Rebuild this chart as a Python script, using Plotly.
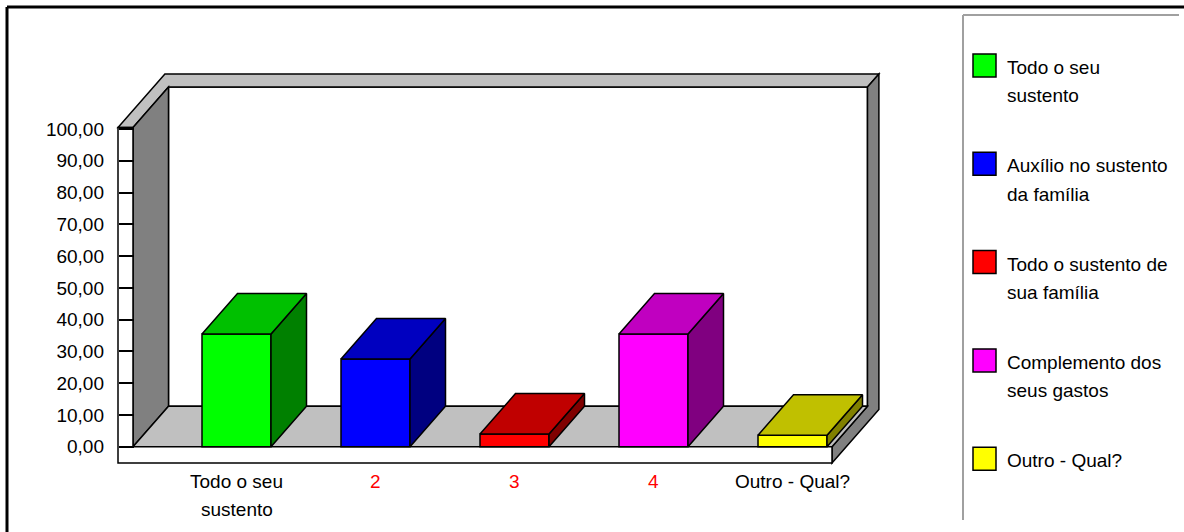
import plotly.graph_objects as go

# ---------------- data ----------------
categories = ["Todo o seu<br>sustento", "2", "3", "4", "Outro - Qual?"]
values = [35.5, 27.6, 4.0, 35.5, 3.6]
legend_labels = ["Todo o seu<br>sustento", "Auxílio no sustento<br>da família",
                 "Todo o sustento de<br>sua família", "Complemento dos<br>seus gastos",
                 "Outro - Qual?"]
y_ticks = [0, 10, 20, 30, 40, 50, 60, 70, 80, 90, 100]

# ---------------- styles ----------------
front_colors = ["#00FF00", "#0000FF", "#FF0000", "#FF00FF", "#FFFF00"]
top_colors = ["#00C000", "#0000C0", "#C00000", "#C000C0", "#C0C000"]
side_colors = ["#008000", "#000080", "#800000", "#800080", "#808000"]
label_colors = ["black", "#FF0000", "#FF0000", "#FF0000", "black"]
FONT = "Liberation Sans, Arial, sans-serif"
FS = 19
LW = 1.5

# ---------------- layout geometry (pixels) ----------------
W, H = 1184, 532
ML, MR, MT, MB = 112, 298, 69, 60
PW, PH = W - ML - MR, H - MT - MB
PX_X = 139.0      # px per category
PX_Y = 3.177      # px per value unit
X0PX, Y0PX = 236.5, 446.7
xr = [(ML - X0PX) / PX_X, (W - MR - X0PX) / PX_X]
yr = [(Y0PX - (H - MB)) / PX_Y, (Y0PX - MT) / PX_Y]

XO = (118 - X0PX) / PX_X     # outer left of left wall
XI = (133 - X0PX) / PX_X     # inner left wall
XE = (832 - X0PX) / PX_X     # right end of floor
DX = 35.5 / PX_X             # depth shift (x)
DY = 40.5 / PX_Y             # depth shift (y)
T = 13 / 40.5                # back wall thickness (depth units)
TOP = 100.5
FB = -(463 - Y0PX) / PX_Y    # floor bottom
BAR_W = 69 / PX_X


def P(x, y, z):
    return (x + z * DX, y + z * DY)


def path(pts):
    s = "M %f,%f" % pts[0]
    for p in pts[1:]:
        s += " L %f,%f" % p
    return s + " Z"


def px(xp):
    return (xp - ML) / PW


def py(yp):
    return (H - MB - yp) / PH


fig = go.Figure()

shapes = []
def poly(pts, fill):
    shapes.append(dict(type="path", xref="x", yref="y", path=path(pts),
                       fillcolor=fill, line=dict(color="black", width=LW), layer="below"))

# back wall interior
poly([P(XI, 0, 1), P(XE, 0, 1), P(XE, TOP, 1), P(XI, TOP, 1)], "white")
# top of walls
poly([P(XO, TOP, 0), P(XI, TOP, 0), P(XI, TOP, 1), P(XE, TOP, 1),
      P(XE, TOP, 1 + T), P(XO, TOP, 1 + T)], "#C0C0C0")
# right end faces (floor + back wall)
poly([P(XE, FB, 0), P(XE, 0, 0), P(XE, 0, 1), P(XE, TOP, 1),
      P(XE, TOP, 1 + T), P(XE, FB, 1 + T)], "#808080")
# left wall inner face
poly([P(XI, 0, 0), P(XI, TOP, 0), P(XI, TOP, 1), P(XI, 0, 1)], "#808080")
# floor top
poly([P(XI, 0, 0), P(XE, 0, 0), P(XE, 0, 1), P(XI, 0, 1)], "#C0C0C0")
# front faces of floor + left wall
poly([P(XO, FB, 0), P(XE, FB, 0), P(XE, 0, 0), P(XI, 0, 0),
      P(XI, TOP, 0), P(XO, TOP, 0)], "white")

# bars: front faces
xs = list(range(len(values)))
fig.add_trace(go.Bar(x=xs, y=values, width=BAR_W,
                     marker=dict(color=front_colors, line=dict(color="black", width=LW)),
                     hoverinfo="skip", showlegend=False))

# bars: top + side faces
for i, v in enumerate(values):
    l, r = i - BAR_W / 2, i + BAR_W / 2
    top = [P(l, v, 0), P(r, v, 0), P(r, v, 1), P(l, v, 1), P(l, v, 0)]
    side = [P(r, 0, 0), P(r, v, 0), P(r, v, 1), P(r, 0, 1), P(r, 0, 0)]
    for pts, col in ((side, side_colors[i]), (top, top_colors[i])):
        fig.add_trace(go.Scatter(x=[p[0] for p in pts], y=[p[1] for p in pts],
                                 mode="lines", fill="toself", fillcolor=col,
                                 line=dict(color="black", width=LW),
                                 hoverinfo="skip", showlegend=False))

annotations = []
# category labels
for i, lab in enumerate(categories):
    for k, line in enumerate(lab.split("<br>")):
        annotations.append(dict(x=i, y=py(481 + 28 * k), xref="x", yref="paper",
                                text=line, showarrow=False, xanchor="center", yanchor="middle",
                                font=dict(family=FONT, size=FS, color=label_colors[i])))

# outer frame
shapes.append(dict(type="line", xref="paper", yref="paper", x0=px(7), x1=px(1190),
                   y0=py(7), y1=py(7), line=dict(color="black", width=3)))
shapes.append(dict(type="line", xref="paper", yref="paper", x0=px(7), x1=px(7),
                   y0=py(7), y1=py(540), line=dict(color="black", width=3)))
# legend box
shapes.append(dict(type="line", xref="paper", yref="paper", x0=px(963), x1=px(1179),
                   y0=py(15), y1=py(15), line=dict(color="#A0A0A0", width=2)))
shapes.append(dict(type="line", xref="paper", yref="paper", x0=px(963), x1=px(963),
                   y0=py(15), y1=py(520), line=dict(color="#A0A0A0", width=2)))
# legend entries
for i, lab in enumerate(legend_labels):
    y0 = 54 + 98.3 * i
    shapes.append(dict(type="rect", xref="paper", yref="paper", x0=px(973), x1=px(996),
                       y0=py(y0), y1=py(y0 + 23), fillcolor=front_colors[i],
                       line=dict(color="black", width=LW)))
    for k, line in enumerate(lab.split("<br>")):
        annotations.append(dict(x=px(1005), y=py(y0 + 13.5 + 28.5 * k), xref="paper", yref="paper",
                                text=line, showarrow=False, xanchor="left", yanchor="middle",
                                font=dict(family=FONT, size=FS, color="black")))

fig.update_layout(
    width=W, height=H,
    margin=dict(l=ML, r=MR, t=MT, b=MB, pad=0),
    paper_bgcolor="white", plot_bgcolor="white",
    separators=",.",
    showlegend=False, hovermode=False,
    shapes=shapes, annotations=annotations,
    xaxis=dict(range=xr, visible=False, fixedrange=True),
    yaxis=dict(range=yr, anchor="free", position=px(118), side="left",
               tickvals=y_ticks, tickformat=".2f", ticks="inside", ticklen=15,
               tickwidth=LW, tickcolor="black", showline=False, showgrid=False,
               zeroline=False, ticklabelstandoff=14,
               tickfont=dict(family=FONT, size=FS, color="black"), fixedrange=True),
)

fig.write_html("out.html", config={"displayModeBar": False})
